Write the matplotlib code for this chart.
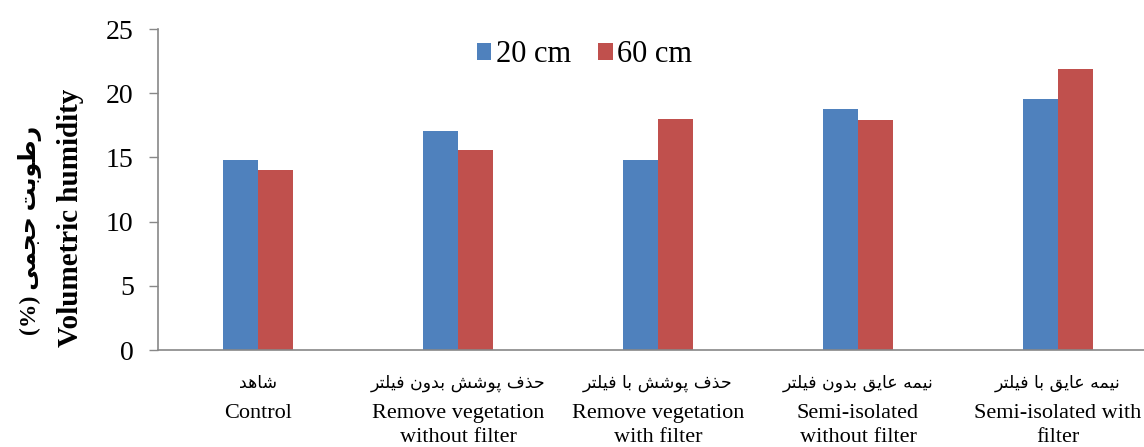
import numpy as np
import matplotlib
matplotlib.use('Agg')
import matplotlib.pyplot as plt

plt.rcParams['font.family'] = ['Liberation Serif', 'DejaVu Sans']

# treatment names, english and persian (persian written in shaped presentation forms, visual order)
labels_en = ['Control', 'Remove vegetation\nwithout filter', 'Remove vegetation\nwith filter',
             'Semi-isolated\nwithout filter', 'Semi-isolated with\nfilter']
labels_fa = ['\uFEAA\uFEEB\uFE8E\uFEB7',
             '\uFEAE\uFE98\uFEE0\uFBFF\uFED3 \uFEE5\uFEED\uFEAA\uFE91 \uFEB6\uFEB7\uFEEE\uFB58 \uFED1\uFEAC\uFEA3',
             '\uFEAE\uFE98\uFEE0\uFBFF\uFED3 \uFE8E\uFE91 \uFEB6\uFEB7\uFEEE\uFB58 \uFED1\uFEAC\uFEA3',
             '\uFEAE\uFE98\uFEE0\uFBFF\uFED3 \uFEE5\uFEED\uFEAA\uFE91 \uFED6\uFBFE\uFE8E\uFECB \uFEEA\uFEE4\uFBFF\uFEE7',
             '\uFEAE\uFE98\uFEE0\uFBFF\uFED3 \uFE8E\uFE91 \uFED6\uFBFE\uFE8E\uFECB \uFEEA\uFEE4\uFBFF\uFEE7']
ylabel_fa = '(%) \uFBFD\uFEE4\uFEA0\uFEA3 \uFE96\uFE91\uFEEE\uFEC3\uFEAD'
ylabel_en = 'Volumetric humidity'

depth_20 = [14.8, 17.05, 14.8, 18.8, 19.55]
depth_60 = [14.05, 15.6, 18.0, 17.9, 21.85]

fig = plt.figure(figsize=(11.44, 4.47), dpi=100)
ax = fig.add_axes([158/1144, 97/447, 1000/1144, 321/447])

x = np.arange(len(labels_en))
w = 0.175
ax.bar(x - w/2, depth_20, w, color='#4F81BD', label='20 cm')
ax.bar(x + w/2, depth_60, w, color='#C0504D', label='60 cm')

ax.set_xlim(-0.5, 4.5)
ax.set_ylim(0, 25)
ax.set_yticks(range(0, 26, 5))
ax.tick_params(axis='y', labelsize=20, length=6.5, width=1, color='#888888', pad=11)
ax.tick_params(axis='x', length=0, labelsize=16, pad=39)
ax.set_xticks(x, labels_en)
for lab in ax.get_xticklabels():
    lab.set_linespacing(1.38)

for s in ['top', 'right']:
    ax.spines[s].set_visible(False)
for s in ['left', 'bottom']:
    ax.spines[s].set_color('#888888')
    ax.spines[s].set_linewidth(1.2)

for i, t in enumerate(labels_fa):
    ax.text(x[i], -0.103, t, transform=ax.get_xaxis_transform(), ha='center', va='center',
            fontsize=12.5, family='DejaVu Sans', clip_on=False)

# two-line y label: persian on the outer line, english next to the axis
fig.text(30/1144, 1 - 230/447, ylabel_fa, rotation=90, ha='center', va='center',
         fontsize=17, fontweight='bold')
fig.text(70/1144, 1 - 218/447, ylabel_en, rotation=90, ha='center', va='center',
         fontsize=21, fontweight='bold')

fig.legend(loc='center', bbox_to_anchor=(0.511, 0.877), ncol=2, frameon=False, fontsize=22,
           handlelength=0.47, handleheight=0.47, handletextpad=0.15, columnspacing=0.9)

fig.savefig('out.png', dpi=100)
